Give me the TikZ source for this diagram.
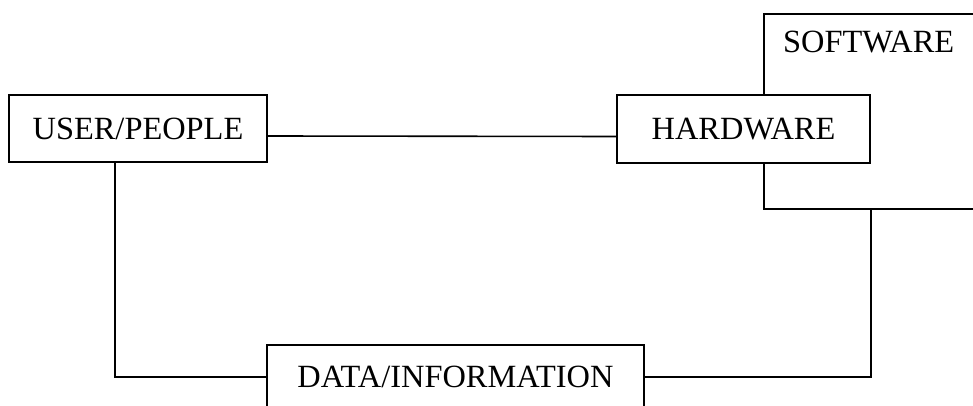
\documentclass[tikz,border=0pt]{standalone}
\usepackage{fontspec}
\setmainfont{Liberation Serif}
\begin{document}
\begin{tikzpicture}[x=1pt,y=-1pt,
  txt/.style={font=\fontsize{32.4}{38}\selectfont},
  box/.style={draw, line width=1.6pt, fill=white, inner sep=0pt, txt},
  conn/.style={line width=1.6pt}]
\useasboundingbox (0,0) rectangle (973,406);
\clip (0,0) rectangle (973,406);
\node[box, minimum width=240pt, minimum height=195pt, anchor=north west] (software) at (763,13) {};
\node[txt, inner sep=0pt, anchor=base west] (swlabel) at (783,53) {SOFTWARE};
\node[box, minimum width=253pt, minimum height=68pt] (hardware) at (743.5,129) {HARDWARE};
\node[box, minimum width=258pt, minimum height=67pt] (user) at (138,128.5) {USER/PEOPLE};
\node[box, minimum width=377pt, minimum height=64pt] (data) at (455.5,377) {DATA/INFORMATION};
\draw[conn] ([yshift=-7.5pt]user.east) -- ([yshift=-7.5pt]hardware.west);
\draw[conn] ([xshift=-23pt]user.south) |- (data.west);
\draw[conn] (data.east) -| (hardware.east |- software.south);
\end{tikzpicture}
\end{document}
